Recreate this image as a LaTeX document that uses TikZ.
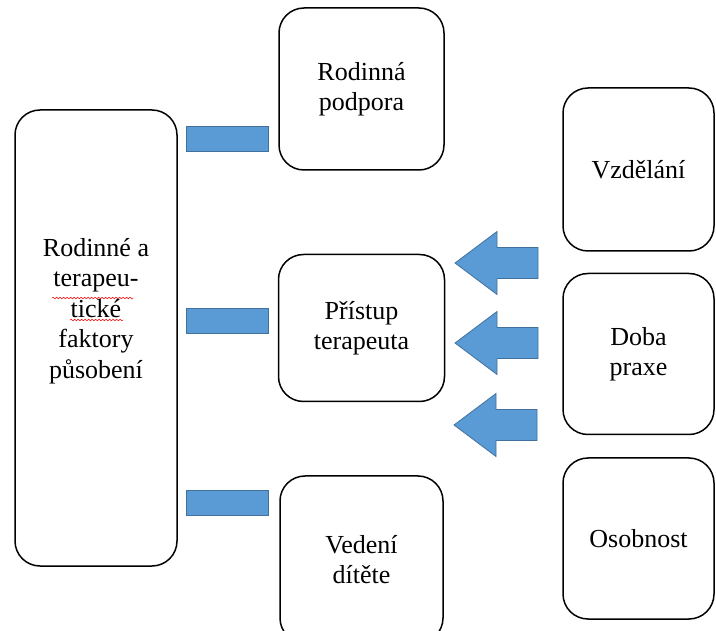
\documentclass[tikz,border=0pt]{standalone}
\usepackage{fontspec}
\setmainfont{Liberation Serif}
\newfontfamily\boxfont{Liberation Serif}
\usetikzlibrary{positioning,decorations.pathmorphing}
\definecolor{arrowblue}{HTML}{5B9BD5}
\definecolor{arrowedge}{HTML}{41719C}

\begin{document}
\begin{tikzpicture}[x=1pt, y=-1pt,
  box/.style = {draw, line width=1.5pt, rounded corners=25pt, align=center, inner sep=0pt, font=\boxfont\fontsize{26}{29.5}\selectfont},
  bar/.style = {draw=arrowedge, fill=arrowblue, line width=0.8pt, minimum width=82pt, minimum height=25pt, inner sep=0pt},
  blockarrow/.style = {draw=arrowedge, fill=arrowblue, line width=0.8pt, line join=miter},
  spell/.style = {draw=red, line width=0.5pt, decorate, decoration={snake, amplitude=0.8pt, segment length=3.5pt}}]
		\useasboundingbox (0,0) rectangle (716,631);
		% left column
		\node[box, minimum width=162pt, minimum height=456pt] (rodinne) at (96,338) {};
		\node[align=center, inner sep=0pt, font=\boxfont\fontsize{26}{30.5}\selectfont] (rodinnetext) at (96,311) {Rodinné a\\terapeu-\\tické\\faktory\\působení};
		\draw[spell] (52,298) -- (133,298);
		\draw[spell] (70,320) -- (123,320);
		% middle column
		\node[box, minimum width=165pt, minimum height=162pt] (podpora) at (361.5,89) {Rodinná\\podpora};
		\node[box, minimum width=166pt, minimum height=147pt] (pristup) [below=83pt of podpora] {Přístup\\terapeuta};
		\node[box, minimum width=163pt, minimum height=167pt] (vedeni) [below=73pt of pristup] {Vedení\\dítěte};
		% right column
		\node[box, minimum width=151pt, minimum height=163pt] (vzdelani) at (638.5,169.5) {Vzdělání};
		\node[box, minimum width=151pt, minimum height=161pt] (doba) [below=21pt of vzdelani] {Doba\\praxe};
		\node[box, minimum width=151pt, minimum height=161pt] (osobnost) [below=22pt of doba] {Osobnost};
		% bars
		\node[bar] (bar1) at (227,138.5) {};
		\node[bar] (bar2) at (227,320.5) {};
		\node[bar] (bar3) at (227,503) {};
		% arrows
		\coordinate (tip1) at (455,263);
		\coordinate (tip2) at (455,343);
		\coordinate (tip3) at (454,425);
		\draw[blockarrow] (tip1) -- ++(42,-31.5) -- ++(0,16) -- ++(41,0) -- ++(0,31) -- ++(-41,0) -- ++(0,16) -- cycle;
		\draw[blockarrow] (tip2) -- ++(42,-31.5) -- ++(0,16) -- ++(41,0) -- ++(0,31) -- ++(-41,0) -- ++(0,16) -- cycle;
		\draw[blockarrow] (tip3) -- ++(42,-31.5) -- ++(0,16) -- ++(41,0) -- ++(0,31) -- ++(-41,0) -- ++(0,16) -- cycle;
\end{tikzpicture}
\end{document}
